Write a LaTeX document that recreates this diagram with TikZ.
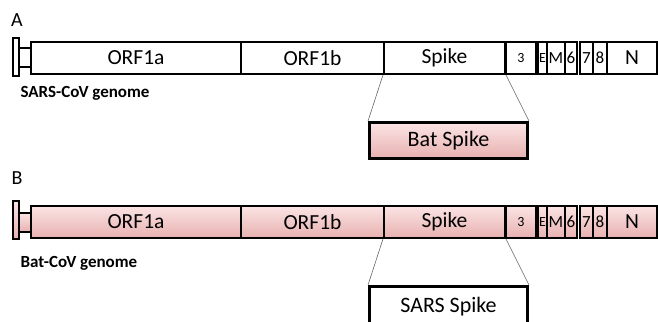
\documentclass[tikz,border=0pt]{standalone}
\usepackage{fontspec}
\setmainfont{Carlito}
\usetikzlibrary{shadows}
\definecolor{pinkL}{RGB}{251,228,228}
\definecolor{pinkD}{RGB}{232,176,176}
\begin{document}
\begin{tikzpicture}[x=1pt,y=-1pt,
  seg/.style={draw=black, line width=2pt, anchor=north west, inner sep=0pt,
    minimum height=32pt, minimum width=#1, font=\fontsize{21.5}{21.5}\selectfont},
  pinkfill/.style={top color=pinkL, bottom color=pinkD},
  small/.style={font=\fontsize{14}{14}\selectfont},
  mid/.style={font=\fontsize{17}{17}\selectfont},
  capbox/.style={draw=black, line width=1.7pt, anchor=north west, inner sep=0pt,
    minimum width=6pt, minimum height=38pt},
  linkbox/.style={draw=black, line width=1.7pt, anchor=north west, inner sep=0pt,
    minimum width=12pt, minimum height=19pt},
  spikebox/.style={draw=black, line width=3pt, anchor=north west, inner sep=0pt,
    minimum width=158pt, minimum height=36pt, font=\fontsize{22}{22}\selectfont},
  conn/.style={draw=black!60, line width=0.6pt},
  lab/.style={font=\fontsize{20}{20}\selectfont},
  glab/.style={font=\bfseries\fontsize{17}{17}\selectfont, anchor=west}]
\useasboundingbox (0,0) rectangle (658,321);

% ---------- A ----------
\node[lab] (labA) at (17,20) {A};
\node[linkbox] (lkA) at (18,47) {};
\node[capbox] (capA) at (12,37) {};
\node[seg=210pt] (a1a) at (30,41) {ORF1a};
\node[seg=143pt] (a1b) at (240,41) {ORF1b};
\node[seg=121pt] (aS) at (383,41) {Spike};
\node[seg=30pt,small] (a3) at (505,41) {3};
\node[seg=9pt,small] (aE) at (537,41) {E};
\node[seg=18pt,mid] (aM) at (546,41) {M};
\node[seg=12pt,mid] (a6) at (564,41) {6};
\node[seg=13pt,mid] (a7) at (579,41) {7};
\node[seg=14pt,mid] (a8) at (592,41) {8};
\node[seg=50pt] (aN) at (606,41) {N};
\node[glab] (gA) at (17,93) {SARS-CoV genome};
\node[spikebox,pinkfill,drop shadow={opacity=0.25,shadow xshift=1.5pt,shadow yshift=-1.5pt}] (batS) at (368,121) {Bat Spike};
\draw[conn] (aS.south west) -- (batS.north west);
\draw[conn] (aS.south east) -- (batS.north east);

% ---------- B ----------
\node[lab] (labB) at (17,178) {B};
\node[linkbox,pinkfill] (lkB) at (18,212) {};
\node[capbox,pinkfill] (capB) at (12,200) {};
\node[seg=210pt,pinkfill] (b1a) at (30,205) {ORF1a};
\node[seg=143pt,pinkfill] (b1b) at (240,205) {ORF1b};
\node[seg=121pt,pinkfill] (bS) at (383,205) {Spike};
\node[seg=30pt,small,pinkfill] (b3) at (505,205) {3};
\node[seg=9pt,small,pinkfill] (bE) at (537,205) {E};
\node[seg=18pt,mid,pinkfill] (bM) at (546,205) {M};
\node[seg=12pt,mid,pinkfill] (b6) at (564,205) {6};
\node[seg=13pt,mid,pinkfill] (b7) at (579,205) {7};
\node[seg=14pt,mid,pinkfill] (b8) at (592,205) {8};
\node[seg=50pt,pinkfill] (bN) at (606,205) {N};
\node[glab] (gB) at (17,263) {Bat-CoV genome};
\node[spikebox,fill=white,minimum height=40pt] (sarsS) at (368,285) {SARS Spike};
\draw[conn] (bS.south west) -- (sarsS.north west);
\draw[conn] (bS.south east) -- (sarsS.north east);
\end{tikzpicture}
\end{document}
